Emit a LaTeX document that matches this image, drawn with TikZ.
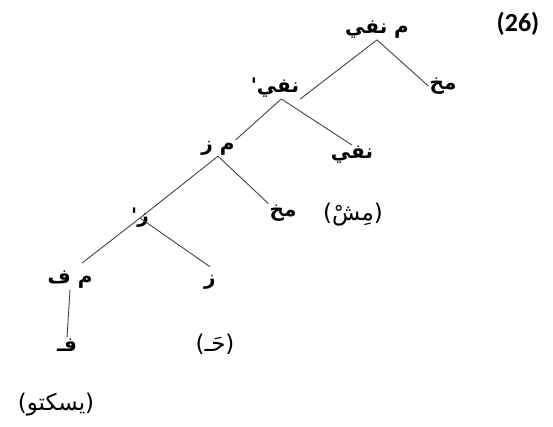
\documentclass[tikz,border=0pt]{standalone}
\usepackage{fontspec}
\usepackage{tikz}
\usetikzlibrary{positioning, calc}
\TeXXeTstate=1
\newfontfamily\arabicfont[Script=Arabic]{DejaVu Sans}
\newfontfamily\numfont{Carlito}
\definecolor{BranchGray}{HTML}{444444}

\tikzset{
  cat/.style={inner sep=1pt, font=\arabicfont\bfseries\fontsize{20}{22}\selectfont},
  gloss/.style={inner sep=1pt, font=\arabicfont\fontsize{23}{25}\selectfont},
  branch/.style={draw=BranchGray, line width=0.9pt}
}

\begin{document}
\begin{tikzpicture}[x=1pt, y=-1pt]
        \useasboundingbox (0,0) rectangle (553,427);

        % Example number
        \node[font=\numfont\bfseries\fontsize{26}{30}\selectfont] (num) at (518,24) {(26)};

        % Categories
        \node[cat] (mnafi) at (377,30) {\beginR م نفي\endR};
        \node[cat] (mukhA) at (443,86) {\beginR مخ\endR};
        \node[cat] (nafibar) at (275,88) {\beginR نفي'\endR};
        \node[cat] (nafi) at (352,155) {\beginR نفي\endR};
        \node[cat] (mz) at (218,148) {\beginR م ز\endR};
        \node[cat] (mukhB) at (283,213) {\beginR مخ\endR};
        \node[cat] (zbar) at (140,218) {\beginR ز'\endR};
        \node[cat] (mf) at (70,280) {\beginR م ف\endR};
        \node[cat] (z) at (210,282) {\beginR ز\endR};
        \node[cat] (fa) at (67,345) {\beginR فـ\endR};

        % Words
        \node[gloss] (mish) at (353,215) {\beginR(مِشْ)\endR};
        \node[gloss] (ha) at (215,344) {\beginR(حَـ)\endR};
        \node[gloss] (yaskutu) at (56,405) {\beginR(يسكتو)\endR};

        % Branches
        \draw[branch] (mnafi.south) -- (nafibar.south east);
        \draw[branch] (mnafi.south) -- (mukhA.west);
        \draw[branch] (nafibar.-60) -- (mz.north east);
        \draw[branch] (nafibar.-60) -- (nafi.north);
        \draw[branch] (mz.south) -- (zbar.center);
        \draw[branch] (mz.south) -- (mukhB.north west);
        \draw[branch] (zbar.center) -- ([xshift=12pt,yshift=7pt]mf.north);
        \draw[branch] (zbar.center) -- ([yshift=7pt]z.north);
        \draw[branch] (mf.south) -- (fa.north);
    \end{tikzpicture}
\end{document}
